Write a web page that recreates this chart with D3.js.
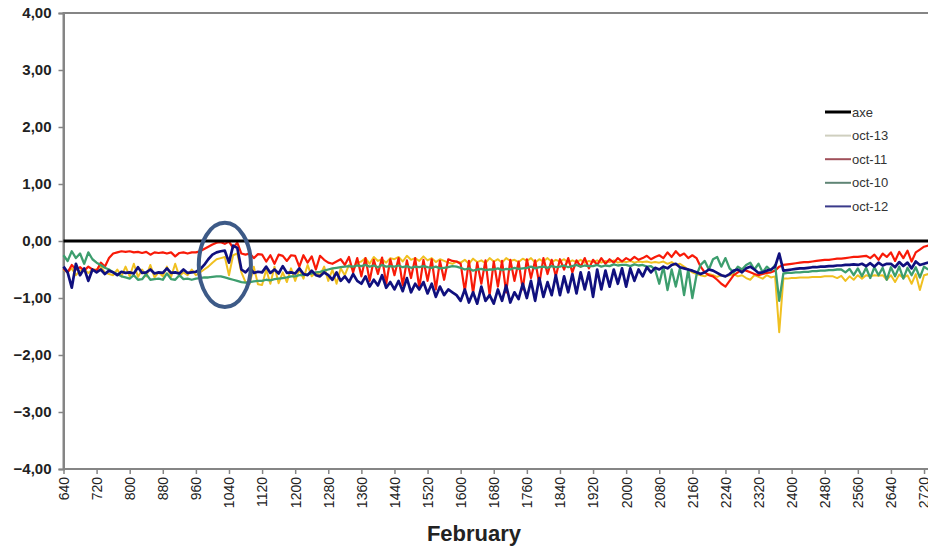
<!DOCTYPE html>
<html lang="en">

<head>
    <meta charset="UTF-8">
    <script src="https://cdnjs.cloudflare.com/ajax/libs/d3/7.9.0/d3.min.js"></script>
    <title>February</title>
    <style>
        body {
            margin: 0;
            background-color: white;
            font-family: "Liberation Sans", Arial, sans-serif;
        }

        svg {
            display: block;
        }
    </style>
</head>

<body>
    <div id="content"></div>
    <script>
        const width = 928;
        const height = 549;

        // x grid of the samples (every 10 units)
        const samples = d3.range(640, 2740, 10);

        const xTicks = [640, 720, 800, 880, 960, 1040, 1120, 1200, 1280, 1360, 1440, 1520, 1600, 1680,
            1760, 1840, 1920, 2000, 2080, 2160, 2240, 2320, 2400, 2480, 2560, 2640, 2720];
        const yTicks = [4, 3, 2, 1, 0, -1, -2, -3, -4];

        const seriesNames = ["oct-13", "oct-11", "oct-10", "oct-12"];
        const lineColors = ["#f0c020", "#f81a08", "#3d9e6e", "#10107e"];
        const lineWidths = [2, 2.2, 2.3, 2.7];
        const legendColors = ["#cfcfbf", "#a0505a", "#5f8575", "#3a3a8a"];

        const oct13 = [
            -0.50, -0.55, -0.48, -0.60, -0.52, -0.50, -0.56, -0.50,
            -0.50, -0.45, -0.55, -0.58, -0.60, -0.50, -0.62, -0.45,
            -0.62, -0.40, -0.63, -0.50, -0.62, -0.42, -0.64, -0.55,
            -0.62, -0.45, -0.63, -0.40, -0.62, -0.55, -0.60, -0.50,
            -0.60, -0.55, -0.50, -0.45, -0.38, -0.32, -0.30, -0.28,
            -0.60, -0.25, -0.22, -0.55, -0.72, -0.75, -0.45, -0.76,
            -0.77, -0.50, -0.75, -0.45, -0.74, -0.55, -0.72, -0.48,
            -0.70, -0.50, -0.66, -0.42, -0.62, -0.55, -0.60, -0.45,
            -0.70, -0.50, -0.75, -0.48, -0.60, -0.42, -0.50, -0.38,
            -0.36, -0.30, -0.40, -0.28, -0.35, -0.32, -0.38, -0.30,
            -0.32, -0.28, -0.36, -0.26, -0.33, -0.30, -0.35, -0.27,
            -0.34, -0.30, -0.37, -0.32, -0.35, -0.38, -0.40, -0.36,
            -0.38, -0.33, -0.40, -0.31, -0.37, -0.34, -0.39, -0.30,
            -0.36, -0.32, -0.38, -0.30, -0.35, -0.33, -0.37, -0.31,
            -0.35, -0.30, -0.38, -0.32, -0.36, -0.30, -0.37, -0.33,
            -0.36, -0.32, -0.38, -0.34, -0.37, -0.33, -0.38, -0.35,
            -0.37, -0.34, -0.38, -0.35, -0.37, -0.34, -0.38, -0.36,
            -0.37, -0.35, -0.38, -0.36, -0.37, -0.36, -0.38, -0.37,
            -0.38, -0.36, -0.40, -0.37, -0.42, -0.40, -0.45, -0.50,
            -0.55, -0.58, -0.60, -0.62, -0.58, -0.60, -0.63, -0.60,
            -0.62, -0.60, -0.58, -0.62, -0.60, -0.65, -0.68, -0.60,
            -0.63, -0.66, -0.60, -0.64, -0.62, -1.60, -0.66, -0.66,
            -0.65, -0.65, -0.64, -0.64, -0.64, -0.63, -0.63, -0.63,
            -0.62, -0.62, -0.62, -0.65, -0.61, -0.70, -0.62, -0.68,
            -0.60, -0.66, -0.60, -0.62, -0.60, -0.61, -0.60, -0.68,
            -0.60, -0.72, -0.59, -0.65, -0.60, -0.75, -0.58, -0.86,
            -0.60, -0.58
        ];

        const oct11 = [
            -0.48, -0.55, -0.42, -0.50, -0.46, -0.52, -0.45, -0.50,
            -0.52, -0.38, -0.45, -0.30, -0.22, -0.20, -0.18, -0.19,
            -0.18, -0.20, -0.19, -0.21, -0.19, -0.24, -0.20, -0.21,
            -0.20, -0.22, -0.20, -0.27, -0.21, -0.20, -0.22, -0.20,
            -0.20, -0.18, -0.14, -0.10, -0.06, -0.03, -0.02, -0.05,
            -0.01, -0.12, -0.03, -0.22, -0.24, -0.22, -0.30, -0.23,
            -0.24, -0.36, -0.25, -0.40, -0.24, -0.26, -0.35, -0.25,
            -0.26, -0.45, -0.25, -0.38, -0.27, -0.50, -0.26, -0.33,
            -0.38, -0.40, -0.36, -0.32, -0.42, -0.28, -0.55, -0.30,
            -0.62, -0.30, -0.70, -0.33, -0.58, -0.29, -0.75, -0.32,
            -0.60, -0.30, -0.78, -0.34, -0.65, -0.30, -0.82, -0.33,
            -0.70, -0.32, -0.85, -0.35, -0.68, -0.32, -0.35, -0.36,
            -0.40, -0.88, -0.35, -0.92, -0.38, -0.75, -0.34, -0.95,
            -0.36, -0.80, -0.35, -0.90, -0.33, -0.70, -0.36, -0.85,
            -0.32, -0.65, -0.34, -0.75, -0.30, -0.58, -0.33, -0.62,
            -0.32, -0.50, -0.30, -0.55, -0.34, -0.45, -0.30, -0.48,
            -0.33, -0.42, -0.30, -0.40, -0.32, -0.38, -0.30, -0.36,
            -0.30, -0.34, -0.28, -0.33, -0.30, -0.26, -0.32, -0.28,
            -0.25, -0.30, -0.20, -0.28, -0.18, -0.26, -0.22, -0.30,
            -0.25, -0.30, -0.45, -0.55, -0.60, -0.62, -0.68, -0.75,
            -0.80, -0.70, -0.60, -0.55, -0.50, -0.52, -0.55, -0.58,
            -0.60, -0.58, -0.56, -0.55, -0.52, -0.45, -0.42, -0.41,
            -0.40, -0.39, -0.38, -0.37, -0.37, -0.36, -0.35, -0.34,
            -0.33, -0.33, -0.32, -0.31, -0.31, -0.30, -0.29, -0.28,
            -0.28, -0.27, -0.26, -0.30, -0.24, -0.33, -0.22, -0.28,
            -0.20, -0.35, -0.19, -0.30, -0.17, -0.36, -0.20, -0.15,
            -0.10, -0.08
        ];

        const oct10 = [
            -0.25, -0.35, -0.18, -0.30, -0.22, -0.40, -0.20, -0.32,
            -0.38, -0.42, -0.47, -0.50, -0.55, -0.58, -0.62, -0.64,
            -0.66, -0.60, -0.68, -0.67, -0.58, -0.68, -0.67, -0.66,
            -0.68, -0.57, -0.67, -0.68, -0.60, -0.67, -0.66, -0.68,
            -0.66, -0.65, -0.64, -0.64, -0.63, -0.62, -0.62, -0.64,
            -0.66, -0.68, -0.70, -0.72, -0.73, -0.72, -0.71, -0.70,
            -0.70, -0.68, -0.69, -0.67, -0.66, -0.65, -0.64, -0.62,
            -0.62, -0.60, -0.60, -0.58, -0.57, -0.55, -0.54, -0.52,
            -0.50, -0.48, -0.47, -0.46, -0.45, -0.44, -0.45, -0.43,
            -0.44, -0.42, -0.45, -0.43, -0.46, -0.42, -0.45, -0.44,
            -0.45, -0.43, -0.46, -0.44, -0.47, -0.45, -0.46, -0.44,
            -0.46, -0.47, -0.45, -0.48, -0.47, -0.46, -0.44, -0.45,
            -0.47, -0.50, -0.48, -0.52, -0.50, -0.49, -0.51, -0.50,
            -0.50, -0.48, -0.51, -0.49, -0.50, -0.47, -0.49, -0.48,
            -0.47, -0.45, -0.48, -0.46, -0.45, -0.47, -0.44, -0.46,
            -0.45, -0.43, -0.46, -0.44, -0.42, -0.45, -0.43, -0.44,
            -0.44, -0.42, -0.45, -0.43, -0.44, -0.41, -0.43, -0.42,
            -0.42, -0.44, -0.41, -0.43, -0.42, -0.45, -0.44, -0.50,
            -0.75, -0.45, -0.86, -0.50, -0.80, -0.48, -0.95, -0.50,
            -1.00, -0.60, -0.42, -0.35, -0.50, -0.32, -0.28, -0.45,
            -0.30, -0.48, -0.55, -0.45, -0.50, -0.42, -0.38, -0.50,
            -0.40, -0.55, -0.45, -0.52, -0.42, -1.05, -0.57, -0.56,
            -0.56, -0.55, -0.55, -0.54, -0.54, -0.53, -0.53, -0.52,
            -0.52, -0.51, -0.51, -0.50, -0.50, -0.55, -0.49, -0.60,
            -0.48, -0.62, -0.47, -0.65, -0.46, -0.60, -0.47, -0.68,
            -0.46, -0.62, -0.45, -0.66, -0.47, -0.60, -0.46, -0.64,
            -0.45, -0.50
        ];

        const oct12 = [
            -0.45, -0.55, -0.82, -0.40, -0.60, -0.48, -0.70, -0.50,
            -0.55, -0.50, -0.58, -0.52, -0.55, -0.60, -0.54, -0.56,
            -0.55, -0.57, -0.46, -0.56, -0.55, -0.50, -0.57, -0.55,
            -0.56, -0.48, -0.56, -0.55, -0.57, -0.50, -0.56, -0.55,
            -0.54, -0.50, -0.42, -0.32, -0.24, -0.20, -0.18, -0.17,
            -0.38, -0.08, -0.12, -0.50, -0.55, -0.47, -0.56, -0.54,
            -0.55, -0.45, -0.56, -0.50, -0.57, -0.44, -0.56, -0.55,
            -0.57, -0.48, -0.58, -0.60, -0.52, -0.60, -0.62, -0.55,
            -0.60, -0.68, -0.55, -0.70, -0.62, -0.72, -0.58, -0.70,
            -0.75, -0.62, -0.80, -0.68, -0.78, -0.60, -0.82, -0.72,
            -0.85, -0.70, -0.88, -0.65, -0.90, -0.75, -0.85, -0.72,
            -0.92, -0.75, -0.98, -0.80, -0.95, -0.85, -0.90, -0.95,
            -1.05, -0.85, -1.08, -0.90, -1.10, -0.80, -1.05, -0.95,
            -1.10, -0.85, -1.05, -0.78, -1.08, -0.90, -1.02, -0.75,
            -1.00, -0.70, -1.05, -0.65, -0.98, -0.72, -0.95, -0.60,
            -0.95, -0.62, -0.90, -0.58, -0.92, -0.55, -0.85, -0.55,
            -0.98, -0.50, -0.85, -0.52, -0.80, -0.50, -0.75, -0.48,
            -0.80, -0.48, -0.70, -0.50, -0.62, -0.46, -0.55, -0.47,
            -0.50, -0.45, -0.48, -0.42, -0.40, -0.46, -0.48, -0.50,
            -0.52, -0.55, -0.58, -0.55, -0.50, -0.52, -0.56, -0.60,
            -0.62, -0.58, -0.52, -0.50, -0.55, -0.48, -0.45, -0.50,
            -0.56, -0.55, -0.52, -0.50, -0.45, -0.22, -0.52, -0.51,
            -0.50, -0.49, -0.48, -0.48, -0.47, -0.46, -0.46, -0.45,
            -0.45, -0.44, -0.44, -0.43, -0.43, -0.42, -0.42, -0.41,
            -0.42, -0.40, -0.44, -0.39, -0.45, -0.38, -0.43, -0.40,
            -0.40, -0.46, -0.37, -0.44, -0.38, -0.48, -0.36, -0.42,
            -0.40, -0.38
        ];

        // circled area (data units)
        const highlight = { x: 1030, y: -0.42, rx: 63, ry: 0.74 };

        const svg = d3.select("div#content")
            .append("svg")
            .attr("width", width)
            .attr("height", height);

        const x = d3.scaleLinear()
            .domain([640, 2740])
            .range([63.5, 932.3]);

        const y = d3.scaleLinear()
            .domain([-4, 4])
            .range([469, 13]);

        // frame
        svg.append("rect")
            .attr("x", x(640))
            .attr("y", y(4))
            .attr("width", x(2740) - x(640))
            .attr("height", y(-4) - y(4))
            .attr("fill", "none")
            .attr("stroke", "#858585")
            .attr("stroke-width", 2);

        // Append y-axis
        const yAxis = d3.axisLeft(y)
            .tickValues(yTicks)
            .tickSize(5)
            .tickFormat(d => d3.format(".2f")(d).replace(".", ","));

        const gy = svg.append("g")
            .attr("transform", `translate(${x(640)},0)`)
            .call(yAxis);
        gy.select(".domain").attr("stroke", "#858585").attr("stroke-width", 2);
        gy.selectAll(".tick line").attr("stroke", "#858585").attr("stroke-width", 1.5);
        gy.selectAll(".tick text")
            .attr("x", -12)
            .attr("fill", "#222")
            .style("font-size", "15px")
            .style("font-weight", "bold")
            .style("font-family", "'Liberation Sans', Arial, sans-serif");

        // Append x-axis
        const xAxis = d3.axisBottom(x)
            .tickValues(xTicks)
            .tickSize(5)
            .tickFormat(d3.format("d"));

        const gx = svg.append("g")
            .attr("transform", `translate(0,${y(-4)})`)
            .call(xAxis);
        gx.select(".domain").remove();
        gx.selectAll(".tick line").attr("stroke", "#858585").attr("stroke-width", 1.5);
        gx.selectAll(".tick text")
            .attr("transform", "rotate(-90)")
            .attr("x", -8)
            .attr("y", 0)
            .attr("dy", "0.35em")
            .attr("text-anchor", "end")
            .attr("fill", "#222")
            .style("font-size", "14px")
            .style("font-family", "'Liberation Sans', Arial, sans-serif");

        svg.append("text")
            .attr("x", 474)
            .attr("y", 541)
            .attr("text-anchor", "middle")
            .attr("fill", "#222")
            .style("font-size", "22px")
            .style("font-weight", "bold")
            .text("February");

        // series
        const allSeries = [oct13, oct11, oct10, oct12];
        const line = d3.line()
            .x((d, i) => x(samples[i]))
            .y(d => y(d));

        svg.append("g")
            .selectAll("path")
            .data(allSeries)
            .enter()
            .append("path")
            .attr("d", d => line(d))
            .attr("fill", "none")
            .attr("stroke", (d, i) => lineColors[i])
            .attr("stroke-width", (d, i) => lineWidths[i])
            .attr("stroke-linejoin", "round");

        // axe (zero line)
        svg.append("line")
            .attr("x1", x(640))
            .attr("x2", width)
            .attr("y1", y(0))
            .attr("y2", y(0))
            .attr("stroke", "black")
            .attr("stroke-width", 3);

        // highlight ellipse
        svg.append("ellipse")
            .attr("cx", x(highlight.x))
            .attr("cy", y(highlight.y))
            .attr("rx", x(highlight.x + highlight.rx) - x(highlight.x))
            .attr("ry", y(highlight.y - highlight.ry) - y(highlight.y))
            .attr("fill", "none")
            .attr("stroke", "#3d5a87")
            .attr("stroke-width", 4);

        // legend
        const legendNames = ["axe"].concat(seriesNames);
        const legendCols = ["#000000"].concat(legendColors);
        const legend = svg.append("g")
            .attr("transform", "translate(825,112)");

        legendNames.forEach((name, i) => {
            const row = legend.append("g").attr("transform", `translate(0,${i * 23.6})`);
            row.append("line")
                .attr("x1", 0).attr("x2", 26)
                .attr("stroke", legendCols[i])
                .attr("stroke-width", i === 0 ? 3 : 2);
            row.append("text")
                .attr("x", 27)
                .attr("dy", "0.35em")
                .attr("fill", "#333")
                .style("font-size", "13px")
                .text(name);
        });
    </script>

</body>

</html>
